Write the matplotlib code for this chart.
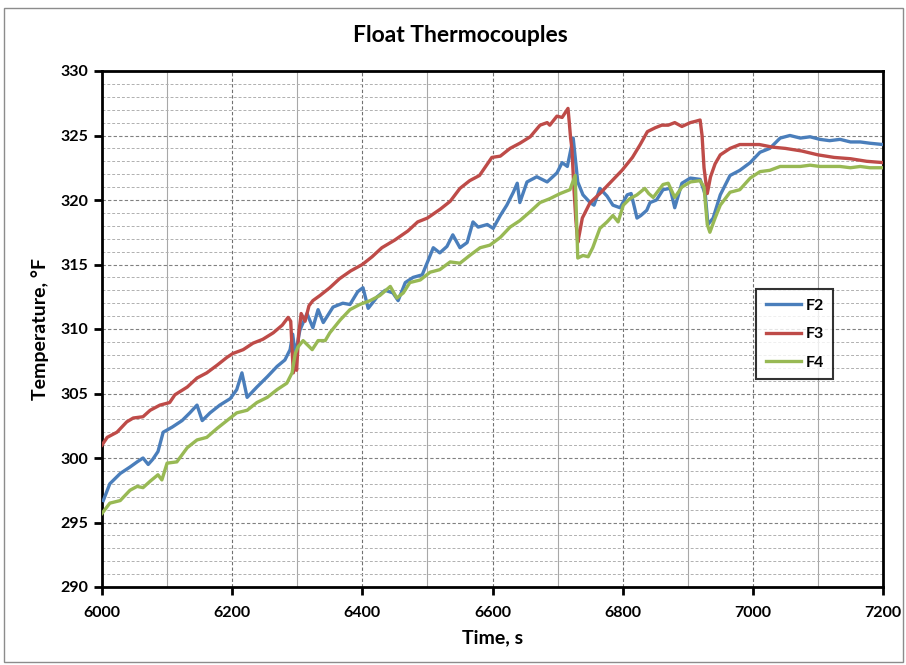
"""
Float thermocouple temperatures F2, F3, F4 over 6000-7200 s.
Writes out.png (906x665).
"""

import matplotlib
matplotlib.use('Agg')
import matplotlib.pyplot as plt
from matplotlib.patches import Rectangle
from matplotlib.ticker import MultipleLocator

plt.rcParams['font.family'] = ['Lato', 'DejaVu Sans']
plt.rcParams['font.weight'] = 'bold'

# time, s / temperature, F  (one pair of lists per thermocouple)
t_f2 = [6002, 6012, 6028, 6043, 6054, 6063, 6071, 6078, 6086, 6094,
        6108, 6123, 6135, 6146, 6154, 6166, 6181, 6197, 6207, 6215,
        6223, 6238, 6254, 6269, 6281, 6289, 6293, 6297, 6304, 6315,
        6324, 6332, 6340, 6355, 6370, 6381, 6393, 6401, 6409, 6423,
        6435, 6447, 6455, 6466, 6478, 6492, 6501, 6509, 6519, 6530,
        6539, 6550, 6561, 6570, 6578, 6592, 6601, 6612, 6622, 6632,
        6638, 6642, 6653, 6668, 6684, 6699, 6707, 6715, 6724, 6731,
        6739, 6750, 6756, 6765, 6776, 6785, 6796, 6807, 6813, 6822,
        6828, 6837, 6842, 6852, 6862, 6873, 6880, 6891, 6904, 6919,
        6927, 6931, 6939, 6950, 6965, 6980, 6996, 7011, 7026, 7042,
        7057, 7073, 7088, 7103, 7118, 7134, 7150, 7165, 7180, 7200]
f2 = [296.7, 298.0, 298.8, 299.3, 299.7, 300.0, 299.5, 299.9, 300.5, 302.0,
      302.4, 302.9, 303.5, 304.1, 302.9, 303.5, 304.1, 304.6, 305.3, 306.6,
      304.7, 305.5, 306.3, 307.1, 307.6, 308.4, 309.6, 308.0, 309.9, 311.2,
      310.1, 311.5, 310.5, 311.7, 312.0, 311.9, 312.9, 313.2, 311.6, 312.5,
      313.0, 312.8, 312.2, 313.6, 314.0, 314.2, 315.3, 316.3, 315.9, 316.4,
      317.3, 316.3, 316.7, 318.3, 317.9, 318.1, 317.8, 318.8, 319.6, 320.6,
      321.3, 319.8, 321.4, 321.8, 321.4, 322.1, 322.9, 322.6, 324.8, 321.4,
      320.4, 319.8, 319.6, 320.9, 320.3, 319.6, 319.4, 320.4, 320.5, 318.6,
      318.8, 319.2, 319.8, 320.0, 320.8, 320.9, 319.4, 321.3, 321.7, 321.6,
      320.4, 318.1, 318.6, 320.4, 321.9, 322.3, 322.9, 323.7, 324.0, 324.8,
      325.0, 324.8, 324.9, 324.7, 324.6, 324.7, 324.5, 324.5, 324.4, 324.3]

t_f3 = [6000, 6008, 6023, 6038, 6048, 6063, 6074, 6089, 6104, 6112,
        6131, 6146, 6161, 6177, 6192, 6201, 6217, 6232, 6247, 6263,
        6277, 6286, 6290, 6292, 6294, 6297, 6299, 6302, 6306, 6312,
        6318, 6324, 6335, 6350, 6365, 6382, 6400, 6415, 6430, 6450,
        6470, 6485, 6500, 6520, 6535, 6550, 6565, 6580, 6599, 6612,
        6627, 6642, 6658, 6673, 6684, 6688, 6699, 6707, 6716, 6718,
        6720, 6722, 6725, 6728, 6731, 6734, 6738, 6750, 6765, 6780,
        6799, 6815, 6827, 6838, 6850, 6860, 6870, 6880, 6891, 6904,
        6912, 6919, 6922, 6925, 6930, 6935, 6942, 6950, 6965, 6980,
        6995, 7010, 7030, 7050, 7075, 7100, 7125, 7150, 7175, 7200]
f3 = [301.0, 301.6, 302.0, 302.8, 303.1, 303.2, 303.7, 304.1, 304.3, 304.9,
      305.5, 306.2, 306.6, 307.2, 307.8, 308.1, 308.4, 308.9, 309.2, 309.7,
      310.3, 310.9, 310.6, 308.5, 306.6, 307.5, 306.8, 309.5, 311.2, 310.6,
      311.8, 312.2, 312.6, 313.2, 313.9, 314.5, 315.0, 315.6, 316.3, 316.9,
      317.6, 318.3, 318.6, 319.3, 319.9, 320.9, 321.5, 321.9, 323.3, 323.4,
      324.0, 324.4, 324.9, 325.8, 326.0, 325.8, 326.5, 326.4, 327.1, 326.0,
      324.8, 324.0, 321.0, 318.5, 316.7, 317.5, 318.6, 319.8, 320.5, 321.3,
      322.3, 323.3, 324.3, 325.3, 325.6, 325.8, 325.8, 326.0, 325.7, 326.0,
      326.1, 326.2, 325.0, 322.5, 320.5, 321.8, 322.8, 323.5, 324.0, 324.3,
      324.3, 324.3, 324.1, 324.0, 323.8, 323.5, 323.3, 323.2, 323.0, 322.9]

t_f4 = [6000, 6012, 6028, 6043, 6054, 6063, 6074, 6086, 6092, 6100,
        6115, 6131, 6146, 6161, 6177, 6192, 6207, 6223, 6238, 6254,
        6269, 6284, 6292, 6297, 6301, 6309, 6323, 6332, 6343, 6350,
        6366, 6381, 6396, 6412, 6427, 6443, 6453, 6463, 6473, 6489,
        6504, 6519, 6535, 6550, 6565, 6581, 6596, 6612, 6627, 6642,
        6658, 6673, 6688, 6704, 6719, 6727, 6731, 6739, 6747, 6754,
        6765, 6776, 6785, 6793, 6801, 6811, 6822, 6834, 6840, 6847,
        6862, 6870, 6880, 6891, 6904, 6919, 6925, 6930, 6934, 6942,
        6950, 6965, 6980, 6996, 7011, 7026, 7042, 7057, 7073, 7088,
        7103, 7118, 7134, 7150, 7165, 7180, 7200]
f4 = [295.7, 296.5, 296.7, 297.5, 297.8, 297.7, 298.2, 298.7, 298.3, 299.6,
      299.7, 300.8, 301.4, 301.6, 302.3, 302.9, 303.5, 303.7, 304.3, 304.7,
      305.3, 305.8, 306.6, 308.1, 308.6, 309.1, 308.4, 309.1, 309.1, 309.7,
      310.7, 311.5, 311.9, 312.2, 312.6, 313.3, 312.4, 312.8, 313.6, 313.8,
      314.4, 314.6, 315.2, 315.1, 315.7, 316.3, 316.5, 317.1, 317.9, 318.4,
      319.1, 319.8, 320.1, 320.5, 320.8, 321.9, 315.5, 315.7, 315.6, 316.3,
      317.8, 318.3, 318.8, 318.3, 319.6, 320.1, 320.4, 320.9, 320.5, 320.2,
      321.2, 321.3, 320.2, 321.0, 321.4, 321.5, 321.0, 318.1, 317.5, 318.6,
      319.6, 320.6, 320.8, 321.7, 322.2, 322.3, 322.6, 322.6, 322.6, 322.7,
      322.6, 322.6, 322.6, 322.5, 322.6, 322.5, 322.5]

SERIES = [
    ('F2', t_f2, f2, '#4a7ebb'),
    ('F3', t_f3, f3, '#be4b48'),
    ('F4', t_f4, f4, '#98b954'),
]

fig = plt.figure(figsize=(9.06, 6.65), dpi=100)
ax = fig.add_axes([102 / 906, 1 - 587 / 665, 781 / 906, 516 / 665])

# outer chart-area frame
fig.patches.append(Rectangle((4 / 906, 3 / 665), 899 / 906, 654 / 665,
                             transform=fig.transFigure, fill=False,
                             edgecolor='#8c8c8c', linewidth=1.0))

for name, t, y, color in SERIES:
    ax.plot(t, y, color=color, linewidth=2.4, label=name, zorder=3,
            solid_joinstyle='round')

ax.set_xlim(6000, 7200)
ax.set_ylim(290, 330)
ax.xaxis.set_major_locator(MultipleLocator(200))
ax.xaxis.set_minor_locator(MultipleLocator(100))
ax.yaxis.set_major_locator(MultipleLocator(5))
ax.yaxis.set_minor_locator(MultipleLocator(1))

ax.grid(True, which='major', axis='y', color='#808080', linestyle=(0, (3, 2)), linewidth=0.8)
ax.grid(True, which='minor', axis='y', color='#b0b0b0', linestyle=(0, (3, 2)), linewidth=0.7)
ax.grid(True, which='major', axis='x', color='#707070', linestyle=(0, (3, 2)), linewidth=0.8)
ax.grid(True, which='minor', axis='x', color='#a8a8a8', linestyle='-', linewidth=0.8)
ax.set_axisbelow(True)

for sp in ax.spines.values():
    sp.set_linewidth(2.0)
    sp.set_color('black')

ax.tick_params(axis='both', which='major', direction='out', length=6, width=2,
               labelsize=11.5, pad=4)
ax.tick_params(axis='both', which='minor', length=0)
ax.tick_params(axis='x', pad=8)
for lab in ax.get_xticklabels() + ax.get_yticklabels():
    lab.set_fontweight('bold')

ax.set_xlabel('Time, s', fontsize=14, fontweight='bold', labelpad=6)
ax.set_ylabel('Temperature, °F', fontsize=14, fontweight='bold', labelpad=8)
fig.text(0.508, 1 - 35 / 665, 'Float Thermocouples', ha='center', va='center',
         fontsize=16.5, fontweight='bold')

leg = ax.legend(loc='upper left', bbox_to_anchor=((748 - 102) / 781, (587 - 281) / 516),
                frameon=True, fancybox=False, fontsize=11.5, handlelength=2.2,
                handletextpad=0.3, labelspacing=0.9, borderpad=0.6)
leg.get_frame().set_edgecolor('black')
leg.get_frame().set_linewidth(1.5)
for txt in leg.get_texts():
    txt.set_fontweight('bold')

fig.savefig('out.png', dpi=100)
